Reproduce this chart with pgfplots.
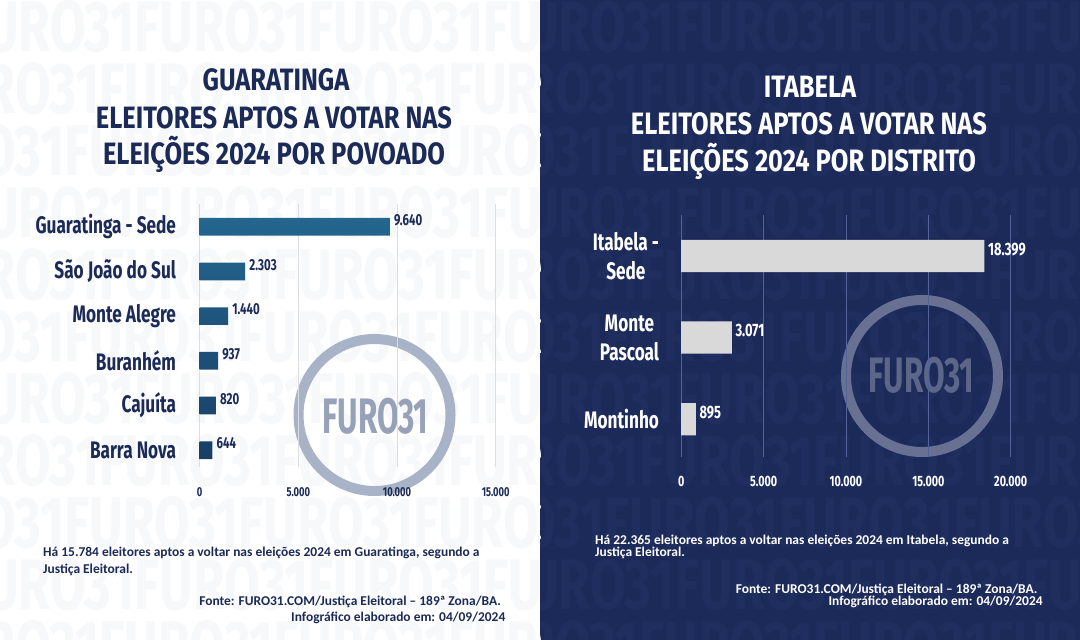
\documentclass[border=0pt]{standalone}
\usepackage{fontspec}
\usepackage{pgfplots}
\pgfplotsset{compat=1.18}
\setmainfont{Carlito}
\newfontfamily\cond[FakeStretch=0.72]{Fira Sans}
\newfontfamily\condT[FakeStretch=0.825]{Fira Sans}
\newfontfamily\condL[FakeStretch=0.63]{Fira Sans}
\newcommand\cf[2]{\cond\bfseries\fontsize{#1}{#2}\selectfont}
\newcommand\tf{\condT\bfseries\fontsize{31}{31}\selectfont}
\newcommand\lf{\condL\bfseries\fontsize{50}{50}\selectfont}
\definecolor{navyT}{HTML}{1B2A57}
\definecolor{navyBG}{HTML}{1C2A5A}
\definecolor{wmL}{HTML}{F7F8FA}
\definecolor{wmR}{HTML}{1F2E5F}
\definecolor{gridL}{HTML}{DADDE4}
\definecolor{gridR}{HTML}{53639A}
\definecolor{barTop}{HTML}{24668E}
\definecolor{barBot}{HTML}{183F66}
\definecolor{barR}{HTML}{D9D9D9}
\definecolor{ringL}{HTML}{A9B3C7}
\definecolor{txtL}{HTML}{97A2B9}
\definecolor{ringR}{HTML}{687192}
\definecolor{txtR}{HTML}{5B6688}
\begin{document}
\begin{tikzpicture}
\begin{scope}[x=1bp,y=1bp]
\useasboundingbox (0,0) rectangle (1080,640);
\fill[white] (0,0) rectangle (540,640);
\fill[navyBG] (540,0) rectangle (1080,640);
\begin{scope}
\clip (0,0) rectangle (540,640);
\foreach \i in {0,...,10} {
  \pgfmathsetmacro\yy{640-\i*62}
  \pgfmathsetmacro\xx{-40-mod(\i,3)*35}
  \node[anchor=north west, inner sep=0, text=wmL] at (\xx,\yy) {\cf{72}{72}FURO31FURO31FURO31FURO31};
}
\end{scope}
\begin{scope}
\clip (540,0) rectangle (1080,640);
\foreach \i in {0,...,10} {
  \pgfmathsetmacro\yy{640-\i*62}
  \pgfmathsetmacro\xx{500-mod(\i,3)*35}
  \node[anchor=north west, inner sep=0, text=wmR] at (\xx,\yy) {\cf{72}{72}FURO31FURO31FURO31FURO31};
}
\end{scope}
% logos
\draw[ringL, line width=10bp] (374.5,225) circle[radius=76bp];
\node[text=txtL, inner sep=0] at (375.5,223.5) {\lf FURO31};
\draw[ringR, line width=10bp] (922,264) circle[radius=76bp];
\node[text=txtR, inner sep=0] at (921.5,265) {\lf FURO31};
\end{scope}

% left chart
\begin{axis}[
  at={(199.7bp,173.3bp)}, anchor=south west, scale only axis,
  width=296bp, height=262.3bp,
  xmin=0, xmax=15000, ymin=-0.37, ymax=5.5,
  xbar, bar width=17.7bp,
  axis line style={draw=none}, major tick length=0,
  xtick={0,5000,10000,15000}, scaled x ticks=false,
  xmajorgrids, grid style={color=gridL, line width=0.7bp},
  ytick={0,1,2,3,4,5},
  yticklabels={Barra Nova,Cajuíta,Buranhém,Monte Alegre,São João do Sul,Guaratinga - Sede},
  yticklabel style={font=\cf{24}{28}, text=navyT, inner sep=0, xshift=-23.5bp},
  xticklabel style={font=\cf{13}{15}, text=navyT, yshift=-17bp},
  nodes near coords,
  nodes near coords style={font=\cf{16}{18}, text=navyT, anchor=west, inner sep=0, xshift=4bp, yshift=6.7bp},
  /pgf/number format/1000 sep={.},
  /pgf/number format/assume math mode=true,
]
\addplot[xbar, draw=none, top color=barTop, bottom color=barBot]
  coordinates {(644,0) (820,1) (937,2) (1440,3) (2303,4) (9640,5)};
\end{axis}

% right chart
\begin{axis}[
  at={(681.2bp,183.3bp)}, anchor=south west, scale only axis,
  width=329.5bp, height=241.5bp,
  xmin=0, xmax=20000, ymin=-0.46, ymax=2.5,
  xbar, bar width=32.3bp,
  axis line style={draw=none}, major tick length=0,
  xtick={0,5000,10000,15000,20000}, scaled x ticks=false,
  xmajorgrids, grid style={color=gridR, line width=0.7bp},
  ytick={0,1,2},
  yticklabels={Montinho,{Monte\\Pascoal},{Itabela -\\Sede}},
  yticklabel style={font=\cf{24}{29}, text=white, inner sep=0, align=center, anchor=east, xshift=-22bp},
  xticklabel style={font=\cf{15}{17}, text=white, yshift=-16bp},
  nodes near coords,
  nodes near coords style={font=\cf{18}{20}, text=white, anchor=west, inner sep=0, xshift=3.5bp, yshift=6.7bp},
  /pgf/number format/1000 sep={.},
  /pgf/number format/assume math mode=true,
]
\addplot[xbar, draw=none, fill=barR]
  coordinates {(895,0) (3071,1) (18399,2)};
\end{axis}

\begin{scope}[x=1bp,y=1bp]
% titles
\node[anchor=base, text=navyT, inner sep=0] at (276,549) {\tf GUARATINGA};
\node[anchor=base, text=navyT, inner sep=0] at (274,511.5) {\tf ELEITORES APTOS A VOTAR NAS};
\node[anchor=base, text=navyT, inner sep=0] at (274,475) {\tf ELEIÇÕES 2024 POR POVOADO};
\node[anchor=base, text=white, inner sep=0] at (810,542) {\tf ITABELA};
\node[anchor=base, text=white, inner sep=0] at (809,505) {\tf ELEITORES APTOS A VOTAR NAS};
\node[anchor=base, text=white, inner sep=0] at (809,468) {\tf ELEIÇÕES 2024 POR DISTRITO};

% footers
\begin{scope}[every node/.style={inner sep=0, font=\bfseries\fontsize{13.5}{16}\selectfont}]
\node[anchor=base west, text=navyT] at (43,83) {Há 15.784 eleitores aptos a voltar nas eleições 2024 em Guaratinga, segundo a};
\node[anchor=base west, text=navyT] at (43,66) {Justiça Eleitoral.};
\node[anchor=base east, text=navyT] at (501,34) {Fonte: FURO31.COM/Justiça Eleitoral – 189ª Zona/BA.};
\node[anchor=base east, text=navyT] at (505.5,18.3) {Infográfico elaborado em: 04/09/2024};
\node[anchor=base west, text=white] at (595,95) {Há 22.365 eleitores aptos a voltar nas eleições 2024 em Itabela, segundo a};
\node[anchor=base west, text=white] at (595,83) {Justiça Eleitoral.};
\node[anchor=base east, text=white] at (1037.6,46) {Fonte: FURO31.COM/Justiça Eleitoral – 189ª Zona/BA.};
\node[anchor=base east, text=white] at (1042.8,34) {Infográfico elaborado em: 04/09/2024};
\end{scope}
\end{scope}
\end{tikzpicture}
\end{document}
